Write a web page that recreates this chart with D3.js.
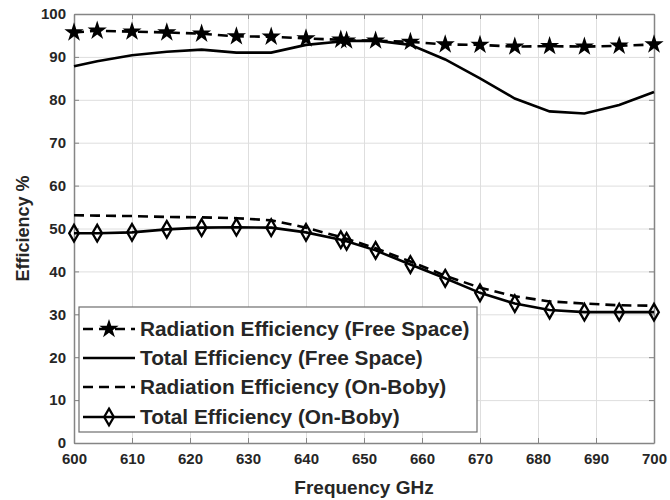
<!DOCTYPE html>
<html>
<head>
<meta charset="utf-8">
<script src="https://cdn.jsdelivr.net/npm/d3@7"></script>
<style>
  html, body { margin: 0; padding: 0; background: #fff; }
  svg { display: block; }
  text { font-family: "Liberation Sans", Arial, sans-serif; font-weight: bold; fill: #262626; }
</style>
</head>
<body>
<svg id="chart" width="670" height="500"></svg>
<script>
// ---- data ----
const frequencies = [600, 604, 610, 616, 622, 628, 634, 640, 646, 647, 652, 658, 664, 670, 676, 682, 688, 694, 700];
const radEffFree  = [95.7, 96.1, 95.9, 95.7, 95.4, 94.8, 94.7, 94.3, 94.0, 93.8, 93.8, 93.5, 92.9, 92.8, 92.4, 92.5, 92.4, 92.6, 92.9];
const totEffFree  = [87.8, 89.0, 90.4, 91.2, 91.7, 91.0, 91.0, 92.8, 93.6, 93.7, 93.8, 92.8, 89.4, 85.0, 80.3, 77.3, 76.8, 78.8, 81.8];
const radEffBody  = [53.1, 53.0, 52.9, 52.7, 52.6, 52.4, 51.9, 50.2, 48.0, 47.6, 45.4, 42.3, 39.0, 36.2, 34.2, 33.0, 32.5, 32.1, 32.0];
const totEffBody  = [48.9, 48.9, 49.1, 49.8, 50.2, 50.3, 50.2, 49.1, 47.4, 47.0, 44.9, 41.6, 38.4, 35.0, 32.5, 31.0, 30.5, 30.5, 30.5];
const xTicks = [600, 610, 620, 630, 640, 650, 660, 670, 680, 690, 700];
const yTicks = [0, 10, 20, 30, 40, 50, 60, 70, 80, 90, 100];
const legendLabels = [
  "Radiation Efficiency (Free Space)",
  "Total Efficiency (Free Space)",
  "Radiation Efficiency (On-Boby)",
  "Total Efficiency (On-Boby)"
];
const xTitle = "Frequency GHz";
const yTitle = "Efficiency %";

// ---- layout ----
const margin = {left: 74, top: 14, right: 16, bottom: 57};
const W = 670, H = 500;
const iw = W - margin.left - margin.right;
const ih = H - margin.top - margin.bottom;

const svg = d3.select("#chart");
const g = svg.append("g").attr("transform", `translate(${margin.left},${margin.top})`);

const x = d3.scaleLinear().domain([600, 700]).range([0, iw]);
const y = d3.scaleLinear().domain([0, 100]).range([ih, 0]);

// grid
g.append("g").attr("class", "gridx")
  .attr("transform", `translate(0,${ih})`)
  .call(d3.axisBottom(x).tickValues(xTicks).tickSize(-ih).tickFormat(""))
  .call(s => s.select(".domain").remove())
  .call(s => s.selectAll("line").attr("stroke", "#dedede").attr("stroke-width", 1));
g.append("g").attr("class", "gridy")
  .call(d3.axisLeft(y).tickValues(yTicks).tickSize(-iw).tickFormat(""))
  .call(s => s.select(".domain").remove())
  .call(s => s.selectAll("line").attr("stroke", "#dedede").attr("stroke-width", 1));

// axes (ticks inward)
const axisColor = "#858585";
function styleAxis(s) {
  s.select(".domain").attr("stroke", axisColor).attr("stroke-width", 1.5);
  s.selectAll(".tick line").attr("stroke", axisColor).attr("stroke-width", 1);
  s.selectAll(".tick text").style("font-size", "15px").attr("fill", "#262626");
}
g.append("g").attr("transform", `translate(0,${ih})`)
  .call(d3.axisBottom(x).tickValues(xTicks).tickSizeInner(-5).tickSizeOuter(0).tickPadding(10).tickFormat(d3.format("d")))
  .call(styleAxis);
g.append("g")
  .call(d3.axisTop(x).tickValues(xTicks).tickSizeInner(-5).tickSizeOuter(0).tickFormat(""))
  .call(styleAxis);
g.append("g")
  .call(d3.axisLeft(y).tickValues(yTicks).tickSizeInner(-5).tickSizeOuter(0).tickPadding(8).tickFormat(d3.format("d")))
  .call(styleAxis);
g.append("g").attr("transform", `translate(${iw},0)`)
  .call(d3.axisRight(y).tickValues(yTicks).tickSizeInner(-5).tickSizeOuter(0).tickFormat(""))
  .call(styleAxis);

// series
const series = [
  {vals: radEffFree, dash: "10,6", marker: "star"},
  {vals: totEffFree, dash: null, marker: null},
  {vals: radEffBody, dash: "10,6", marker: null},
  {vals: totEffBody, dash: null, marker: "diamond"}
];
const line = d3.line().x(d => x(d[0])).y(d => y(d[1]));
const starSym = d3.symbol().type(d3.symbolStar).size(115);
const diamondSym = d3.symbol().type(d3.symbolDiamond).size(80);

series.forEach(s => {
  const pts = frequencies.map((f, i) => [f, s.vals[i]]);
  g.append("path").datum(pts)
    .attr("d", line)
    .attr("fill", "none")
    .attr("stroke", "#000")
    .attr("stroke-width", 2.6)
    .attr("stroke-dasharray", s.dash);
  if (s.marker === "star") {
    g.selectAll(null).data(pts).enter().append("path")
      .attr("d", starSym)
      .attr("transform", d => `translate(${x(d[0])},${y(d[1])})`)
      .attr("fill", "#000");
  } else if (s.marker === "diamond") {
    g.selectAll(null).data(pts).enter().append("path")
      .attr("d", diamondSym)
      .attr("transform", d => `translate(${x(d[0])},${y(d[1])})`)
      .attr("fill", "none").attr("stroke", "#000").attr("stroke-width", 2.3);
  }
});

// axis titles
svg.append("text")
  .attr("x", margin.left + iw / 2).attr("y", 494)
  .attr("text-anchor", "middle")
  .style("font-size", "19px")
  .text(xTitle);
svg.append("text")
  .attr("transform", `translate(29,${margin.top + ih / 2}) rotate(-90)`)
  .attr("text-anchor", "middle")
  .style("font-size", "18px")
  .text(yTitle);

// legend
const lg = svg.append("g");
lg.append("rect")
  .attr("x", 79).attr("y", 307).attr("width", 398).attr("height", 125)
  .attr("fill", "#fff").attr("stroke", "#6e6e6e").attr("stroke-width", 1.2);
const rowY = [329, 358, 387, 417];
series.forEach((s, i) => {
  const cy = rowY[i];
  lg.append("line")
    .attr("x1", 83).attr("x2", 135).attr("y1", cy).attr("y2", cy)
    .attr("stroke", "#000").attr("stroke-width", 2.6)
    .attr("stroke-dasharray", s.dash);
  if (s.marker === "star") {
    lg.append("path").attr("d", starSym).attr("transform", `translate(109,${cy})`).attr("fill", "#000");
  } else if (s.marker === "diamond") {
    lg.append("path").attr("d", diamondSym).attr("transform", `translate(109,${cy})`)
      .attr("fill", "none").attr("stroke", "#000").attr("stroke-width", 2.3);
  }
  lg.append("text")
    .attr("x", 140).attr("y", cy).attr("dy", "0.35em")
    .style("font-size", "20.8px")
    .text(legendLabels[i]);
});
</script>
</body>
</html>
